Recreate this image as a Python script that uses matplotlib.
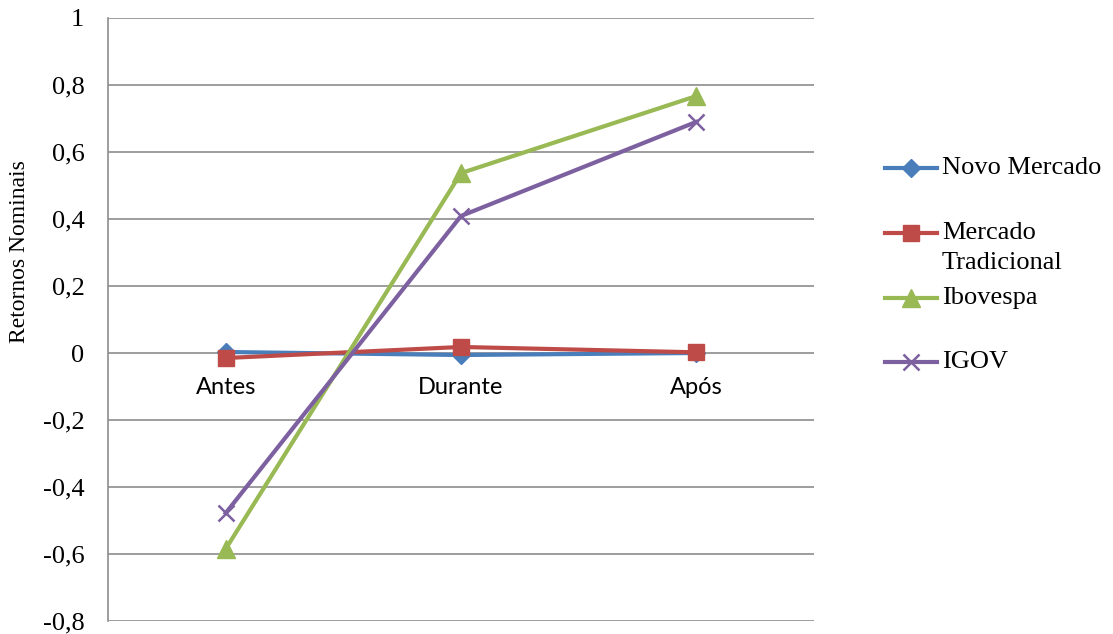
import matplotlib.pyplot as plt
from matplotlib.lines import Line2D
from matplotlib.ticker import FuncFormatter, MultipleLocator

# Data
periods = ['Antes', 'Durante', 'Após']
novo_mercado = [0.003, -0.006, 0.0]
mercado_tradicional = [-0.015, 0.018, 0.002]
ibovespa = [-0.585, 0.537, 0.767]
igov = [-0.478, 0.409, 0.69]

series = [
    ('Novo Mercado', novo_mercado, '#4A7EBB', 'D', 9, 1),
    ('Mercado\nTradicional', mercado_tradicional, '#BE4B48', 's', 11, 1),
    ('Ibovespa', ibovespa, '#98B954', '^', 13, 1),
    ('IGOV', igov, '#7D60A0', 'x', 11, 1.8),
]

fig = plt.figure(figsize=(11.13, 6.34), dpi=100)
ax = fig.add_axes([108 / 1113, 1 - 621 / 634, (814 - 108) / 1113, (621 - 18) / 634])

x = range(len(periods))
for name, vals, color, marker, ms, mew in series:
    ax.plot(x, vals, color=color, lw=3, marker=marker, markersize=ms,
            markeredgewidth=mew, markeredgecolor=color, markerfacecolor=color,
            solid_joinstyle='round', clip_on=False)

# Axes styling
ax.set_xlim(-0.5, 2.5)
ax.set_ylim(-0.8, 1.0)
ax.yaxis.set_major_locator(MultipleLocator(0.2))
ax.yaxis.set_major_formatter(FuncFormatter(
    lambda v, pos: '0' if abs(v) < 1e-9 else f'{v:g}'.replace('.', ',')))
ax.grid(axis='y', color='#8C8C8C', lw=1.2)
ax.set_axisbelow(True)
for side in ['top', 'right']:
    ax.spines[side].set_visible(False)
ax.spines['left'].set_color('#8C8C8C')
ax.spines['left'].set_linewidth(1.2)
ax.spines['bottom'].set_position(('data', 0))
ax.spines['bottom'].set_visible(False)
ax.tick_params(axis='y', length=0, pad=17, labelsize=19)
ax.tick_params(axis='x', length=0, pad=17, labelsize=17)
for lab in ax.get_yticklabels():
    lab.set_fontfamily('Liberation Serif')
ax.set_xticks(list(x))
ax.set_xticklabels(periods, fontfamily='Lato')
ax.set_ylabel('Retornos Nominais', fontfamily='Liberation Serif', fontsize=17)
ax.yaxis.set_label_coords(-0.11, 0.612)

# Legend, drawn Excel-style (handle aligned with first line of label)
row_y = [168, 233, 298, 362]
for (name, vals, color, marker, ms, mew), py in zip(series, row_y):
    yf = 1 - py / 634
    fig.add_artist(Line2D([885 / 1113, 937 / 1113], [yf, yf], transform=fig.transFigure,
                          color=color, lw=3))
    fig.add_artist(Line2D([911 / 1113], [yf], transform=fig.transFigure, color=color,
                          marker=marker, markersize=ms, markeredgewidth=mew,
                          markeredgecolor=color, markerfacecolor=color))
    for j, line in enumerate(name.split('\n')):
        fig.text(942 / 1113, 1 - (py + j * 30) / 634, line, fontfamily='Liberation Serif',
                 fontsize=19, va='center', ha='left')

fig.savefig('out.png', dpi=100)
